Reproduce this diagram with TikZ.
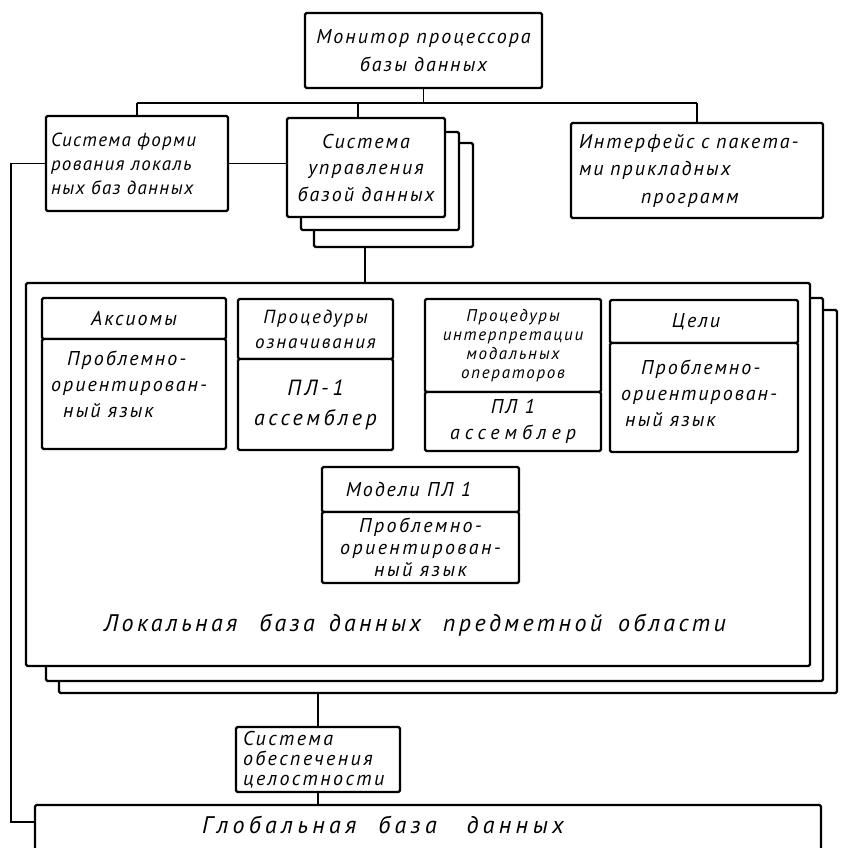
\documentclass[tikz,border=0pt]{standalone}
\usepackage{fontspec}
\setmainfont{PT Sans}
\newfontfamily\hw[LetterSpace=10]{PT Sans}
\newcommand\fsz[2]{\hw\itshape\fontsize{#1}{#2}\selectfont}
\newcommand\ls[1]{\addfontfeature{LetterSpace=#1}}
\tikzset{
  frame/.style={draw, line width=2.4pt, fill=white, inner sep=0pt, outer sep=0pt, rounded corners=1.5pt, font=\fsz{20}{27}},
  wire/.style={line width=1.8pt},
  txt/.style={inner sep=0pt, font=\fsz{20}{26}},
}
% \bx[options]{x1}{y1}{x2}{y2}{name}{text}
\newcommand\bx[7][]{\node[frame,minimum width={(#4-#2)*1pt},minimum height={(#5-#3)*1pt},#1] (#6) at ({(#2+#4)/2},{(#3+#5)/2}) {#7};}
\begin{document}
\begin{tikzpicture}[x=1pt,y=-1pt]
\useasboundingbox[fill=white] (0,0) rectangle (841,848);

% top level
\bx[align=center,font=\fsz{20}{28}]{305}{13}{542}{88}{mon}{Монитор процессора\\базы данных}
\bx[align=left,text width=172pt,font=\fsz{19}{24}\ls{7}]{46}{116}{228}{211}{loc}{Система форми\\рования локаль\\ных баз данных}
\bx{314}{143}{473}{247}{sub3}{}
\bx{301}{132}{459}{230}{sub2}{}
\bx[align=center,font=\fsz{20}{26.5}]{287}{118}{445}{217}{sub}{Система\\управления\\базой данных}
\bx[align=left,text width=236pt,font=\fsz{20}{27.5}]{571}{123}{823}{218}{rif}{Интерфейс с пакета-\\ми прикладных\\\hspace*{62pt}программ}

% local database stack
\bx{59}{310}{837}{693}{big3}{}
\bx{46}{298}{823}{681}{big2}{}
\bx{26}{283}{810}{666}{big}{}

\bx{42}{298}{226}{339}{axT}{Аксиомы}
\bx{42}{339}{226}{449}{axB}{}
\node[txt,align=left,anchor=west] (axBt) at (51,384) {\hspace*{16pt}Проблемно-\\ориентирован-\\\hspace*{12pt}ный язык};

\bx[align=center,font=\fsz{19}{25}]{238}{299}{393}{359}{poT}{Процедуры\\означивания}
\bx[align=center,font=\fsz{22}{30}\ls{16}]{238}{359}{393}{450}{poB}{ПЛ-1\\ассемблер}

\bx[align=center,font=\fsz{17}{19}]{425}{299}{601}{392}{piT}{Процедуры\\интерпретации\\модальных\\операторов}
\bx[align=center,font=\fsz{20}{26}]{425}{392}{601}{451}{piB}{ПЛ 1\\{\ls{25}ассемблер}}

\bx{610}{300}{798}{343}{ceT}{Цели\hspace*{16pt}}
\bx{610}{343}{798}{452}{ceB}{}
\node[txt,align=left,anchor=west] (ceBt) at (621,393) {\hspace*{20pt}Проблемно-\\ориентирован-\\\hspace*{4pt}ный язык};

\bx[font=\fsz{20}{24}]{322}{467}{519}{512}{moT}{Модели ПЛ 1\hspace*{24pt}}
\bx[align=center,font=\fsz{20}{22}\ls{12}]{322}{512}{519}{583}{moB}{Проблемно-\\ориентирован-\\ный язык}

\node[txt,font=\fsz{24}{28}\ls{14}] (loctxt) at (415,625) {Локальная\hspace{22pt}база\hspace{14pt}данных\hspace{22pt}предметной\hspace{16pt}области};

% integrity and global
\bx[align=left,text width=150pt,font=\fsz{20}{20}\ls{12}]{236}{727}{400}{792}{integ}{Система\\обеспечения\\целостности}
\bx{35}{805}{821}{858}{glob}{}
\node[txt,font=\fsz{24}{26}\ls{18}] (globtxt) at (383,825) {Глобальная\hspace{22pt}база\hspace{30pt}данных};

% connectors
\coordinate (busL) at (137,103);
\coordinate (busR) at (697,103);
\draw[wire] (busL) -- (busR);
\draw[wire] (mon.south) -- (mon.south |- busL);
\draw[wire] (loc.north) -- (loc.north |- busL);
\draw[wire] ([xshift=-8pt]sub.north) -- ([xshift=-8pt]sub.north |- busL);
\draw[wire] (rif.north) -- (rif.north |- busR);
\draw[wire] (loc.east) -- (loc.east -| sub.west);
\coordinate (lc) at (11,822);
\draw[wire] (loc.west) -| (lc) -- (lc -| glob.west);
\draw[wire] ([xshift=-28.5pt]sub3.south) -- ([xshift=-28.5pt]sub3.south |- big.north);
\draw[wire] (integ.north) -- (integ.north |- big3.south);
\draw[wire] (integ.south) -- (integ.south |- glob.north);
\end{tikzpicture}
\end{document}
